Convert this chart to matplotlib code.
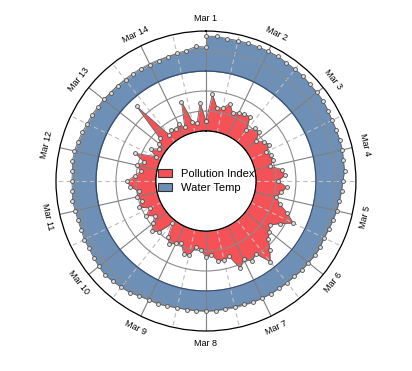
import numpy as np
import matplotlib
matplotlib.use('Agg')
import matplotlib.pyplot as plt
from matplotlib.patches import Patch

plt.rcParams['font.family'] = ['Liberation Sans', 'DejaVu Sans']

# ---- data ----
days = ['Mar 1', 'Mar 2', 'Mar 3', 'Mar 4', 'Mar 5', 'Mar 6', 'Mar 7',
        'Mar 8', 'Mar 9', 'Mar 10', 'Mar 11', 'Mar 12', 'Mar 13', 'Mar 14']

# readings every 4 hours, Mar 1 00:00 -> Mar 14 20:00
pollution = [10, 37, 24, 25, 31, 23,
             26, 27, 28, 15, 22, 22,
             14, 20, 23, 17, 20, 20,
             16, 27, 29, 22, 31, 26,
             22, 27, 37, 47, 35, 28,
             31, 35, 44, 53, 38, 42,
             37, 44, 29, 31, 31, 24,
             26, 19, 17, 26, 26, 17,
             19, 23, 18, 4, 19, 24,
             18, 12, 19, 12, 22, 17,
             21, 18, 26, 29, 21, 16,
             21, 15, 26, 6, 14, 7,
             10, 13, 52, 9, 12, 10,
             13, 8, 33, 11, 9, 28]

# readings every 4 hours, Mar 1 00:00 -> Mar 15 00:00
water_temp = [95, 95, 94, 94, 94, 94,
              94, 94, 93, 93, 93, 92,
              92, 92, 91, 90, 90, 90,
              90, 89, 89, 87, 86, 85,
              84, 83, 82, 81, 82, 82,
              81, 81, 80, 80, 80, 80,
              80, 80, 79, 79, 79, 80,
              80, 80, 80, 80, 81, 82,
              82, 83, 85, 86, 87, 88,
              87, 86, 85, 85, 84, 84,
              84, 85, 84, 84, 84, 85,
              85, 84, 83, 82, 82, 81,
              81, 80, 80, 79, 79, 79,
              79, 79, 80, 81, 82, 85,
              84]

temp_base = 60
period_h = 14 * 24

hours_p = np.arange(len(pollution) + 1) * 4
hours_w = np.arange(len(water_temp)) * 4
th_p = hours_p / period_h * 2 * np.pi
th_w = hours_w / period_h * 2 * np.pi
poll_closed = np.append(pollution, pollution[0])

fig = plt.figure(figsize=(4.12, 3.71), dpi=100)
ax = fig.add_axes([0.1359, 0.1078, 0.728, 0.8086], projection='polar')
ax.set_theta_zero_location('N')
ax.set_theta_direction(-1)
ax.set_ylim(0, 100)
ax.set_rorigin(-50)

# fills
ax.fill_between(th_w, temp_base, water_temp, color='#6e8fb6', lw=0, zorder=1)
ax.plot(np.linspace(0, 2 * np.pi, 300), np.full(300, temp_base), color='#34507a', lw=0.9, zorder=2)
ax.fill_between(th_p, 0, poll_closed, color='#f45256', lw=0, zorder=1)

mk = dict(marker='o', markersize=2.8, markerfacecolor='#dcdcdc',
          markeredgecolor='#505050', markeredgewidth=0.6, color='#606060', lw=0.6, zorder=3)
ax.plot(th_w, water_temp, **mk)
ax.plot(th_p, poll_closed, **mk)

# hole border
ax.plot(np.linspace(0, 2 * np.pi, 300), np.zeros(300), color='black', lw=0.9, zorder=3)

# grid
major = np.arange(len(days)) / len(days) * 2 * np.pi
minor = (np.arange(len(days)) + 0.5) / len(days) * 2 * np.pi
ax.set_xticks(major)
ax.set_xticks(minor, minor=True)
ax.set_xticklabels([])
ax.set_yticks([20, 40, 60, 80])
ax.set_yticklabels([])
ax.xaxis.grid(True, which='major', color='#7f7f7f', lw=0.8, ls='-')
ax.xaxis.grid(True, which='minor', color='#bdbdbd', lw=0.8, ls=(0, (4, 3)))
ax.yaxis.grid(True, color='#8c8c8c', lw=0.8)
ax.tick_params(axis='x', which='major', direction='inout', length=6, width=0.8, color='black')
ax.tick_params(axis='x', which='minor', direction='in', length=4, width=0.8, color='black')
ax.spines['polar'].set_color('black')
ax.spines['polar'].set_linewidth(0.9)

for ang, lab in zip(major, days):
    deg = np.degrees(ang)
    rot = 180 - deg if 90 < deg < 270 else -deg
    ax.text(ang, 113, lab, rotation=rot, rotation_mode='anchor',
            ha='center', va='center', fontsize=6.5)

handles = [Patch(facecolor='#f45256', edgecolor='#333333', lw=0.8, label='Pollution Index'),
           Patch(facecolor='#6e8fb6', edgecolor='#333333', lw=0.8, label='Water Temp')]
ax.legend(handles=handles, loc='center', frameon=False, fontsize=8,
          handlelength=1.3, handleheight=0.8, handletextpad=0.8, labelspacing=0.35)

fig.savefig('out.png', dpi=100)
